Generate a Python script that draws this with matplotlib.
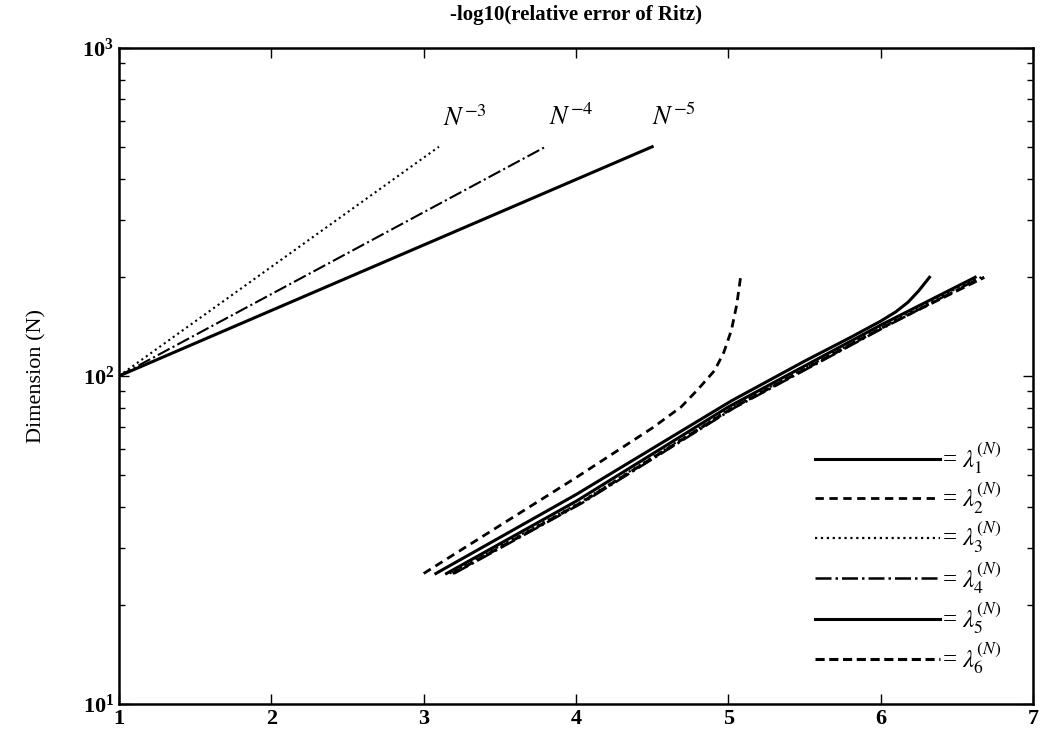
import numpy as np
import matplotlib
matplotlib.use("Agg")
import matplotlib.pyplot as plt

plt.rcParams['font.family'] = ['Liberation Serif', 'DejaVu Serif']
plt.rcParams['mathtext.fontset'] = 'stix'

# reference slopes N^-3, N^-4, N^-5 (straight on semilog axes)
ref_N = [100, 500]
ref_x3 = [1.0, 3.1]
ref_x4 = [1.0, 3.8]
ref_x5 = [1.0, 4.5]
ref_labels = ['$N^{-3}$', '$N^{-4}$', '$N^{-5}$']
ref_label_x = [3.27, 3.97, 4.64]
ref_label_y = [610, 615, 615]

# -log10(relative error) of the Ritz values
lam1_x = [3.08, 4.0, 5.02, 5.5, 5.8, 6.0, 6.1, 6.18, 6.25, 6.32]
lam1_N = [25, 43.5, 84, 111, 131, 147, 157, 168, 182, 200]
lam2_x = [3.0, 4.0, 4.5, 4.69, 4.8, 4.91, 4.97, 5.02, 5.055, 5.08]
lam2_N = [25, 49, 69.4, 80.5, 91, 104, 118, 138, 165, 200]
lam3_x = [3.17, 4.02, 5.02, 6.02, 6.64]
lam3_N = [25, 41, 80, 142, 200]
lam4_x = [3.2, 4.04, 5.04, 6.04, 6.66]
lam4_N = [25, 41, 80, 142, 200]
lam5_x = [3.15, 4.0, 5.0, 6.0, 6.62]
lam5_N = [25, 41.5, 80.5, 143, 200]
lam6_x = [3.19, 4.03, 5.03, 6.03, 6.68]
lam6_N = [25, 41, 80, 142, 200]

series = [(lam1_x, lam1_N), (lam2_x, lam2_N), (lam3_x, lam3_N),
          (lam4_x, lam4_N), (lam5_x, lam5_N), (lam6_x, lam6_N)]
styles = [('-', 2.2), ((0, (3, 2)), 2.0), (':', 1.6),
          ('-.', 1.8), ('-', 2.2), ((0, (3, 1.5)), 2.2)]
labels = ['= $\\lambda_{%d}^{(N)}$' % (i + 1) for i in range(6)]

fig = plt.figure(figsize=(10.52, 7.5), dpi=100)
ax = fig.add_axes([0.1131, 0.0613, 0.8689, 0.8747])

ax.plot(ref_x3, ref_N, color='black', linestyle=':', linewidth=1.5)
ax.plot(ref_x4, ref_N, color='black', linestyle='-.', linewidth=1.5)
ax.plot(ref_x5, ref_N, color='black', linestyle='-', linewidth=2.2)
for lx, ly, lt in zip(ref_label_x, ref_label_y, ref_labels):
    ax.text(lx, ly, lt, ha='center', va='center', fontsize=19,
            fontweight='bold')

for (x, n), (ls, lw), lab in zip(series, styles, labels):
    ax.plot(x, n, color='black', linestyle=ls, linewidth=lw, label=lab)

ax.set_yscale('log')
ax.set_xlim(1, 7)
ax.set_ylim(10, 1000)
ax.set_xticks([1, 2, 3, 4, 5, 6, 7])
ax.tick_params(which='both', direction='in', top=True, right=True,
               labelsize=16)
ax.tick_params(which='major', length=7, width=1)
ax.tick_params(which='minor', length=4, width=1)
for lab in ax.get_xticklabels() + ax.get_yticklabels():
    lab.set_fontweight('bold')
for s in ax.spines.values():
    s.set_linewidth(1.8)

ax.set_title('-log10(relative error of Ritz)', fontsize=15,
             fontweight='bold', pad=20)
ax.set_ylabel('Dimension (N)', fontsize=16, labelpad=26)

leg = ax.legend(loc='lower right', frameon=False, fontsize=18,
                handlelength=5.0, handletextpad=0.1, labelspacing=0.18,
                bbox_to_anchor=(0.99, 0.008))

fig.savefig('out.png', dpi=100)
